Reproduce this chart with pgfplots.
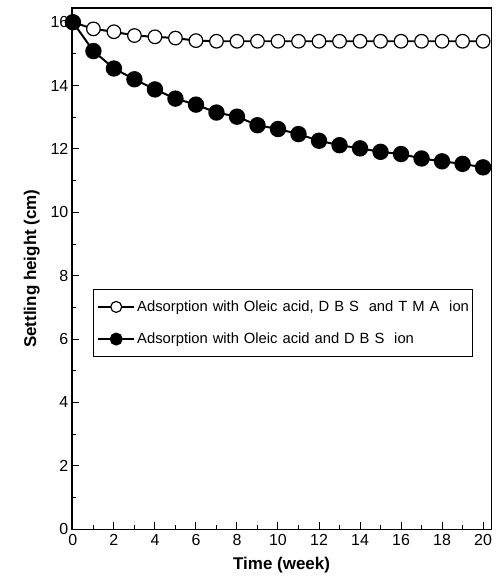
\documentclass[border=0pt]{standalone}
\usepackage{pgfplots}
\pgfplotsset{compat=1.18}
\usepackage{fontspec}
\setmainfont{Liberation Sans}
\begin{document}
\begin{tikzpicture}
\begin{axis}[
    scale only axis,
    width=420bp, height=522bp,
    xmin=-0.05, xmax=20.4,
    ymin=0, ymax=16.45,
    xtick={0,2,...,20},
    ytick={0,2,...,16},
    minor x tick num=1,
    minor y tick num=1,
    tick pos=left,
    tick align=inside,
    major tick length=7bp,
    minor tick length=4bp,
    axis line style={line width=1.3bp},
    every tick/.style={black, line width=1bp},
    /pgf/number format/assume math mode=true,
    tick label style={font=\fontsize{16bp}{18bp}\selectfont},
    xticklabel style={yshift=-2bp},
    xlabel={\textbf{Time (week)}},
    ylabel={\textbf{Settling height (cm)}},
    label style={font=\fontsize{17bp}{19bp}\selectfont},
    xlabel style={yshift=-4bp},
    ylabel style={yshift=4bp},
    legend style={at={(0.05,0.46)}, anchor=north west,
        draw=black, line width=0.8bp,
        font=\fontsize{14.8bp}{17bp}\selectfont,
        row sep=16bp, inner xsep=4bp, inner ysep=9bp,
        text width=330bp},
    legend cell align=left,
    legend image code/.code={
        \draw[#1, mark=none] (0bp,0bp) -- (36bp,0bp);
        \draw[#1, mark size=5.5bp] plot coordinates {(18bp,0bp)};
    },
]
\addplot[black, line width=2bp, mark=*, mark size=6.8bp,
    mark options={fill=white, line width=1.2bp}]
coordinates {(0,16.0) (1,15.79) (2,15.7) (3,15.58) (4,15.54) (5,15.5) (6,15.42)
 (7,15.4) (8,15.4) (9,15.4) (10,15.4) (11,15.4) (12,15.4) (13,15.4) (14,15.4)
 (15,15.4) (16,15.4) (17,15.4) (18,15.4) (19,15.4) (20,15.4)};
\addlegendentry{\mbox{Adsorption with Oleic acid, D B S\ \ and T M A\ \ ion}}
\addplot[black, line width=2bp, mark=*, mark size=7.2bp,
    mark options={fill=black}]
coordinates {(0,16.0) (1,15.09) (2,14.54) (3,14.2) (4,13.88) (5,13.59) (6,13.4)
 (7,13.15) (8,13.02) (9,12.75) (10,12.63) (11,12.47) (12,12.26) (13,12.12)
 (14,12.02) (15,11.91) (16,11.84) (17,11.7) (18,11.61) (19,11.53) (20,11.42)};
\addlegendentry{\mbox{Adsorption with Oleic acid and D B S\ \ ion}}
\end{axis}
\path[use as bounding box] ([shift={(-72bp,-46bp)}]current axis.south west)
    rectangle ([shift={(6bp,8bp)}]current axis.north east);
\end{tikzpicture}
\end{document}
